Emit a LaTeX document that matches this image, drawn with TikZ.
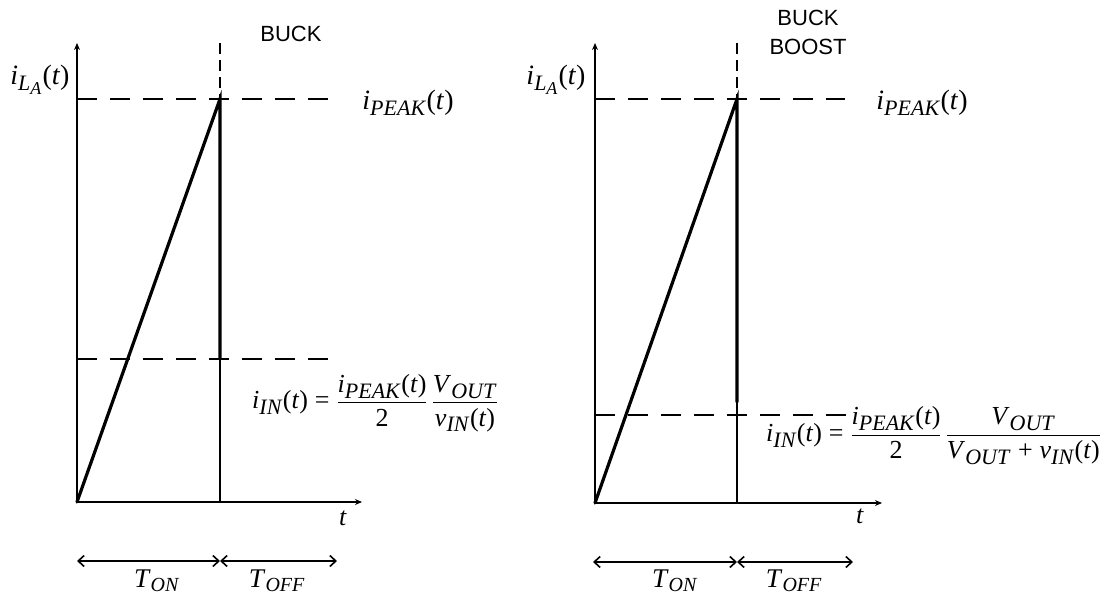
\documentclass[tikz,border=0pt]{standalone}
\usepackage{amsmath}
\usepackage{fontspec}
\setmainfont{Liberation Serif}
\newfontfamily\arialfont{Liberation Sans}
\usetikzlibrary{arrows.meta}
\DeclareMathSizes{28}{28}{22}{18}
\DeclareMathSizes{27}{27}{20}{16}
\DeclareMathSizes{26}{26}{22}{17}
\newcommand{\mi}[1]{\text{\itshape #1\/}}
\newcommand{\mr}[1]{\text{#1}}
\begin{document}
\begin{tikzpicture}[x=1pt,y=-1pt,
  axis/.style={line width=1.8pt,-{Stealth[length=7pt,width=6pt]}},
  ramp/.style={line width=3.2pt,line cap=round},
  thinv/.style={line width=1.6pt},
  dashh/.style={line width=2.2pt,dash pattern=on 20pt off 13pt},
  dashv/.style={line width=1.6pt,dash pattern=on 11pt off 6pt},
  span/.style={line width=1.6pt,{Straight Barb[length=6pt,width=11pt]}-{Straight Barb[length=6pt,width=11pt]}},
  lab/.style={font=\fontsize{28}{32}\selectfont,inner sep=0pt},
  eq/.style={font=\fontsize{26}{30}\selectfont,inner sep=0pt},
  tlab/.style={font=\fontsize{27}{31}\selectfont,inner sep=0pt,anchor=base},
  title/.style={font=\arialfont\fontsize{22}{29}\selectfont,inner sep=0pt,align=center}]
\useasboundingbox (0,0) rectangle (1117,604);

% ---------- LEFT: BUCK ----------
\coordinate (oA) at (77,502);
\coordinate (yA) at (77,43);
\coordinate (xA) at (362,502);
\coordinate (pA) at (220,99);
\coordinate (pAtop) at (220,43);
\coordinate (mA) at (220,359);
\coordinate (bA) at (220,502);
\coordinate (peA0) at (77,99);
\coordinate (peA1) at (328,99);
\coordinate (avA0) at (77,359);
\coordinate (avA1) at (328,359);
\coordinate (sA0) at (77,561);
\coordinate (sA1) at (220,561);
\coordinate (sA2) at (337,561);

\draw[axis] (oA) -- (yA);
\draw[axis] (oA) -- (xA);
\draw[dashv] (pAtop) -- (pA);
\draw[dashh] (peA0) -- (peA1);
\draw[dashh] (avA0) -- (avA1);
\draw[ramp] (oA) -- (pA) -- (mA);
\draw[thinv] (mA) -- (bA);
\draw[span] (sA0) -- (sA1);
\draw[span] (sA1) -- (sA2);

\node[title] (tA) at (291,34) {BUCK};
\node[lab] (ylA) at (40,80) {$\mi{i}_{\mi{L}_{\mi{A}}}\mr{(}\mi{t}\mr{)}$};
\node[lab] (pkA) at (408,103) {$\mi{i}_{\mi{PEAK}}\mr{(}\mi{t}\mr{)}$};
\node[lab,font=\fontsize{26}{30}\selectfont] (tlA) at (343,518) {$\mi{t}$};
\node[tlab] (onA) at (157,587) {$\mi{T}_{\mi{ON}}$};
\node[tlab] (offA) at (277,587) {$\mi{T}_{\mi{OFF}}$};
\node[eq,anchor=west] (eqA) at (252,403) {$\mi{i}_{\mi{IN}}\mr{(}\mi{t}\mr{)} \;\mr{=}\; \dfrac{\mi{i}_{\mi{PEAK}}\mr{(}\mi{t}\mr{)}}{\mr{2}}\,\dfrac{\mi{V}_{\mi{OUT}}}{\mi{v}_{\mi{IN}}\mr{(}\mi{t}\mr{)}}$};

% ---------- RIGHT: BUCK BOOST ----------
\coordinate (oB) at (595,503);
\coordinate (yB) at (595,43);
\coordinate (xB) at (882,503);
\coordinate (pB) at (737,99);
\coordinate (pBtop) at (737,43);
\coordinate (mB) at (737,402);
\coordinate (bB) at (737,503);
\coordinate (peB0) at (595,99);
\coordinate (peB1) at (845,99);
\coordinate (avB0) at (595,415);
\coordinate (avB1) at (847,415);
\coordinate (sB0) at (593,562);
\coordinate (sB1) at (737,562);
\coordinate (sB2) at (853,562);

\draw[axis] (oB) -- (yB);
\draw[axis] (oB) -- (xB);
\draw[dashv] (pBtop) -- (pB);
\draw[dashh] (peB0) -- (peB1);
\draw[dashh] (avB0) -- (avB1);
\draw[ramp] (oB) -- (pB) -- (mB);
\draw[thinv] (mB) -- (bB);
\draw[span] (sB0) -- (sB1);
\draw[span] (sB1) -- (sB2);

\node[title] (tB) at (808,32) {BUCK\\BOOST};
\node[lab] (ylB) at (556,80) {$\mi{i}_{\mi{L}_{\mi{A}}}\mr{(}\mi{t}\mr{)}$};
\node[lab] (pkB) at (922,103) {$\mi{i}_{\mi{PEAK}}\mr{(}\mi{t}\mr{)}$};
\node[lab,font=\fontsize{26}{30}\selectfont] (tlB) at (860,516) {$\mi{t}$};
\node[tlab] (onB) at (675,587) {$\mi{T}_{\mi{ON}}$};
\node[tlab] (offB) at (794,587) {$\mi{T}_{\mi{OFF}}$};
\node[eq,anchor=west] (eqB) at (766,436) {$\mi{i}_{\mi{IN}}\mr{(}\mi{t}\mr{)} \;\mr{=}\; \dfrac{\mi{i}_{\mi{PEAK}}\mr{(}\mi{t}\mr{)}}{\mr{2}}\,\dfrac{\mi{V}_{\mi{OUT}}}{\mi{V}_{\mi{OUT}}\;\mr{+}\;\mi{v}_{\mi{IN}}\mr{(}\mi{t}\mr{)}}$};
\end{tikzpicture}
\end{document}
